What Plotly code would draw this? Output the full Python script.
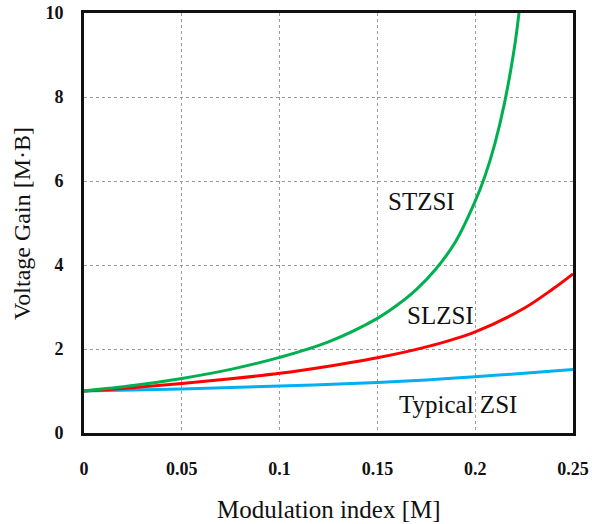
import plotly.graph_objects as go

# Data
m_stzsi = [0, 0.025, 0.05, 0.075, 0.1, 0.125, 0.15, 0.16, 0.17, 0.18, 0.19, 0.2, 0.205, 0.21, 0.215, 0.22, 0.2224]
g_stzsi = [1.0, 1.13, 1.30, 1.515, 1.80, 2.17, 2.73, 3.04, 3.42, 3.91, 4.56, 5.52, 6.12, 6.88, 7.86, 9.16, 10.0]

m_slzsi = [0, 0.025, 0.05, 0.075, 0.1, 0.125, 0.15, 0.175, 0.2, 0.225, 0.24, 0.25]
g_slzsi = [1.0, 1.08, 1.18, 1.29, 1.42, 1.59, 1.79, 2.05, 2.41, 2.97, 3.44, 3.79]

m_zsi = [0, 0.05, 0.1, 0.15, 0.175, 0.2, 0.225, 0.25]
g_zsi = [1.0, 1.05, 1.12, 1.20, 1.26, 1.34, 1.42, 1.51]

x_ticks = [0, 0.05, 0.1, 0.15, 0.2, 0.25]
x_tick_text = ["0", "0.05", "0.1", "0.15", "0.2", "0.25"]
y_ticks = [0, 2, 4, 6, 8, 10]

labels = ["STZSI", "SLZSI", "Typical ZSI"]
label_x = [0.1723, 0.1825, 0.1912]
label_y = [5.52, 2.79, 0.69]

serif = "Liberation Serif, Times New Roman, serif"

fig = go.Figure()
fig.add_trace(go.Scatter(x=m_zsi, y=g_zsi, mode="lines", line=dict(color="#00B0F0", width=3, shape="spline"), name="Typical ZSI"))
fig.add_trace(go.Scatter(x=m_slzsi, y=g_slzsi, mode="lines", line=dict(color="#FF0000", width=3, shape="spline"), name="SLZSI"))
fig.add_trace(go.Scatter(x=m_stzsi, y=g_stzsi, mode="lines", line=dict(color="#00B050", width=3, shape="spline"), name="STZSI"))

for t, lx, ly in zip(labels, label_x, label_y):
    fig.add_annotation(x=lx, y=ly, xref="x", yref="y", text=t, showarrow=False,
                       font=dict(family=serif, size=25, color="#111"), xanchor="center", yanchor="middle")

fig.add_annotation(x=0.5, y=-0.183, xref="paper", yref="paper", text="Modulation index [M]",
                   showarrow=False, font=dict(family=serif, size=25, color="#111"),
                   xanchor="center", yanchor="middle")
fig.add_annotation(x=-0.127, y=0.5, xref="paper", yref="paper", text="Voltage Gain [M·B]",
                   showarrow=False, textangle=-90, font=dict(family=serif, size=24, color="#111"),
                   xanchor="center", yanchor="middle")

fig.update_layout(
    width=592, height=524,
    margin=dict(l=84, r=19, t=13, b=91, autoexpand=False),
    paper_bgcolor="white", plot_bgcolor="white",
    showlegend=False,
    xaxis=dict(range=[0, 0.25], tickvals=x_ticks, ticktext=x_tick_text, automargin=False,
               showline=True, linecolor="#111", linewidth=3, mirror=True,
               showgrid=True, gridcolor="#9a9a9a", griddash="dot", gridwidth=1,
               zeroline=False, ticks="", ticklabelstandoff=17, ticklabeloverflow="allow",
               tickfont=dict(family=serif, size=18, color="#111", weight="bold")),
    yaxis=dict(range=[0, 10], tickvals=y_ticks, automargin=False,
               showline=True, linecolor="#111", linewidth=3, mirror=True,
               showgrid=True, gridcolor="#9a9a9a", griddash="dot", gridwidth=1,
               zeroline=False, ticks="", ticklabelstandoff=14, ticklabeloverflow="allow",
               tickfont=dict(family=serif, size=18, color="#111", weight="bold")),
)

# Remove the default 8px page margin so the figure fills the window exactly
fig.write_html("out.html", config={"displayModeBar": False},
               post_script="document.body.style.margin='0px';")
